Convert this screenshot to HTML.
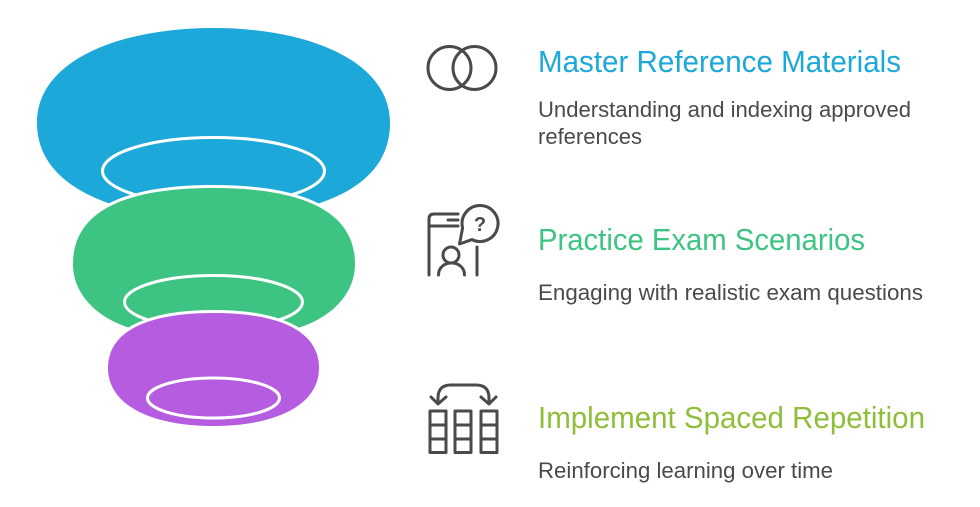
<!DOCTYPE html>
<html><head><meta charset="utf-8"><style>
html,body{margin:0;padding:0;background:#fff;width:980px;height:507px;overflow:hidden}
svg{display:block}
text{font-family:"Liberation Sans",sans-serif}
.t{font-size:31px}
.d{font-size:22px;fill:#4a4a4a}
</style></head><body>
<svg width="980" height="507" viewBox="0 0 980 507" xmlns="http://www.w3.org/2000/svg">
<path d="M37 123C37 60 120 28 213.5 28C307 28 390 60 390 123C390 165 360 190 317 204C285 215 250 222 213.5 222C177 222 142 215 111 204C70 190 37 165 37 123Z" fill="#1ca8d9"/>
<ellipse cx="213.5" cy="171" rx="111" ry="33.5" fill="none" stroke="#fff" stroke-width="3"/>
<path d="M73 264C73 211 125 188 213.500 188C302 188 355 211 355 264C355 295 330 318 298 328C272 336 245 342 213.500 342C182 342 155 336 130 328C98 318 73 295 73 264Z" fill="#3dc482" stroke="#fff" stroke-width="6" paint-order="stroke"/>
<ellipse cx="213.5" cy="302" rx="89" ry="26.5" fill="none" stroke="#fff" stroke-width="3"/>
<path d="M108 368C108 330 150 313 213.500 313C277 313 319 330 319 368C319 408 270 426 213.500 426C157 426 108 408 108 368Z" fill="#b55ce0" stroke="#fff" stroke-width="6" paint-order="stroke"/>
<ellipse cx="213.5" cy="398" rx="66" ry="20" fill="none" stroke="#fff" stroke-width="3"/>

<g fill="none" stroke="#4a4a4a" stroke-width="3" stroke-linecap="round" stroke-linejoin="round">
<circle cx="449.500" cy="68" r="21.500"/>
<circle cx="474.500" cy="68" r="21.500"/>
<path d="M429 275V219Q429 214 434 214H458M429 226H458M448 220H458M477 247V275"/>
<circle cx="451" cy="255" r="8"/>
<path d="M438.500 275C438.500 259 464.500 259 464.500 275"/>
<path d="M459.500 244L462.600 228A18 18 0 1 1 472 239.600Z"/>
<path d="M438 403V398Q438 385 451 385H476Q489 385 489 398V403"/>
<path d="M431 397L438 404L446 397M481 397L489 404L496 397"/>
<rect x="430" y="411" width="16" height="41.500"/>
<rect x="455" y="411" width="16" height="41.500"/>
<rect x="481" y="411" width="16" height="41.500"/>
<path d="M430 425H446M430 439H446M455 425H471M455 439H471M481 425H497M481 439H497"/>
</g>
<text x="480" y="231" font-size="20" font-weight="700" fill="#4a4a4a" text-anchor="middle">?</text>

<text class="t" x="538" y="72" fill="#1ca8d9" textLength="363" lengthAdjust="spacingAndGlyphs">Master Reference Materials</text>
<text class="d" x="538" y="117" textLength="373" lengthAdjust="spacingAndGlyphs">Understanding and indexing approved</text>
<text class="d" x="538" y="144" textLength="104" lengthAdjust="spacingAndGlyphs">references</text>
<text class="t" x="538" y="250" fill="#3dc482" textLength="327" lengthAdjust="spacingAndGlyphs">Practice Exam Scenarios</text>
<text class="d" x="538" y="300" textLength="385" lengthAdjust="spacingAndGlyphs">Engaging with realistic exam questions</text>
<text class="t" x="538" y="428" fill="#8fbf3a" textLength="387" lengthAdjust="spacingAndGlyphs">Implement Spaced Repetition</text>
<text class="d" x="538" y="478" textLength="295" lengthAdjust="spacingAndGlyphs">Reinforcing learning over time</text>
</svg>
</body></html>
